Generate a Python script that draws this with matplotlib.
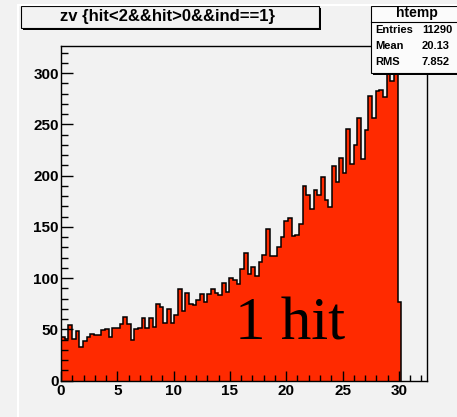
import numpy as np
import matplotlib
matplotlib.use("Agg")
import matplotlib.pyplot as plt
import matplotlib.transforms as mtransforms
from matplotlib.patches import Rectangle
from matplotlib.ticker import MultipleLocator

# zv histogram: 100 bins over [0, 32.5]; only the first 93 bins are filled
n_bins = 100
x_min, x_max = 0.0, 32.5
counts = [42, 41, 54, 41, 48, 33, 39, 42, 45, 44,
          44, 49, 50, 42, 51, 51, 55, 62, 55, 40,
          50, 51, 61, 51, 61, 52, 75, 72, 56, 70,
          56, 64, 89, 68, 85, 75, 74, 79, 84, 77,
          84, 89, 85, 83, 95, 86, 100, 98, 94, 109,
          124, 104, 111, 102, 116, 123, 148, 122, 122, 130,
          140, 156, 159, 141, 142, 153, 190, 181, 167, 186,
          181, 199, 176, 169, 209, 194, 217, 203, 246, 211,
          230, 256, 216, 245, 278, 256, 283, 284, 277, 305,
          292, 311, 77]
title = "zv {hit<2&&hit>0&&ind==1}"
stats_name = "htemp"
stats_labels = ["Entries", "Mean", "RMS"]
stats_values = ["11290", "20.13", "7.852"]
annotation = "1 hit"

W, H = 457, 417
fig = plt.figure(figsize=(W / 100, H / 100), dpi=100)
fig.patch.set_facecolor("#f2f2f2")

def fx(px):
    return px / W

def fy(py):
    return 1 - py / H

# pad border
fig.add_artist(plt.Line2D([fx(18), fx(18)], [0, fy(5)], color="white", lw=1.5))
fig.add_artist(plt.Line2D([fx(18), 1], [fy(5), fy(5)], color="white", lw=1.5))

ax = fig.add_axes([fx(61), fy(380.5), fx(427) - fx(61), fy(46) - fy(380.5)])
ax.set_facecolor("#f2f2f2")

width = (x_max - x_min) / n_bins
edges = x_min + width * np.arange(len(counts) + 1)
ax.stairs(counts, edges, baseline=0, fill=True, color="#ff2a00", lw=0)
ax.stairs(counts, edges, baseline=0, fill=False, color="black", lw=1.1)

ymax = max(counts) * 1.05
ax.set_xlim(x_min, x_max)
ax.set_ylim(0, ymax)

ax.xaxis.set_major_locator(MultipleLocator(5))
ax.xaxis.set_minor_locator(MultipleLocator(1))
ax.yaxis.set_major_locator(MultipleLocator(50))
ax.yaxis.set_minor_locator(MultipleLocator(10))
ax.tick_params(axis="x", which="major", direction="in", length=7.2, width=1.0, pad=2.5)
ax.tick_params(axis="x", which="minor", direction="in", length=4.3, width=1.0)
ax.tick_params(axis="y", which="major", direction="in", length=8.6, width=1.0, pad=1.5)
ax.tick_params(axis="y", which="minor", direction="in", length=4.8, width=1.0)
for lab in ax.get_xticklabels() + ax.get_yticklabels():
    lab.set_fontfamily("Liberation Sans")
    lab.set_fontweight("bold")
    lab.set_fontsize(11)
for sp in ax.spines.values():
    sp.set_linewidth(1.0)
    sp.set_color("black")

# lift the y-axis "0" label clear of the x-axis "0"
zero_tick = ax.yaxis.get_major_ticks()[0]
zero_tick.label1.set_transform(zero_tick.label1.get_transform() +
                               mtransforms.ScaledTranslation(0, 3.5 / 100, fig.dpi_scale_trans))

ax.text(15.45, 39.6, annotation, family="Liberation Serif", fontsize=44,
        ha="left", va="baseline", color="black")

# title box with shadow
fig.add_artist(Rectangle((fx(23), fy(30)), fx(321) - fx(23), fy(8) - fy(30),
                         facecolor="black", edgecolor="none"))
fig.add_artist(Rectangle((fx(21), fy(28)), fx(319) - fx(21), fy(6) - fy(28),
                         facecolor="#f2f2f2", edgecolor="black", lw=0.8))
fig.text(fx(168), fy(17), title, family="Liberation Sans", fontweight="bold",
         fontsize=12, ha="center", va="center")

# statistics box
fig.add_artist(Rectangle((fx(373), fy(75)), 1, fy(8) - fy(75),
                         facecolor="black", edgecolor="none"))
fig.add_artist(Rectangle((fx(371), fy(73)), 1, fy(6) - fy(73),
                         facecolor="#fbfbfb", edgecolor="black", lw=0.8))
fig.add_artist(plt.Line2D([fx(371), 1], [fy(22), fy(22)], color="black", lw=0.8))
fig.text(fx(417), fy(13.5), stats_name, family="Liberation Sans", fontweight="bold",
         fontsize=10, ha="center", va="center")
row_y = [30, 46, 62]
for lab, val, yy in zip(stats_labels, stats_values, row_y):
    fig.text(fx(375), fy(yy), lab, family="Liberation Sans", fontweight="bold",
             fontsize=8, ha="left", va="center")
    fig.text(fx(422), fy(yy), val, family="Liberation Sans", fontweight="bold",
             fontsize=8, ha="left", va="center")

fig.savefig("out.png", dpi=100, facecolor=fig.get_facecolor())
